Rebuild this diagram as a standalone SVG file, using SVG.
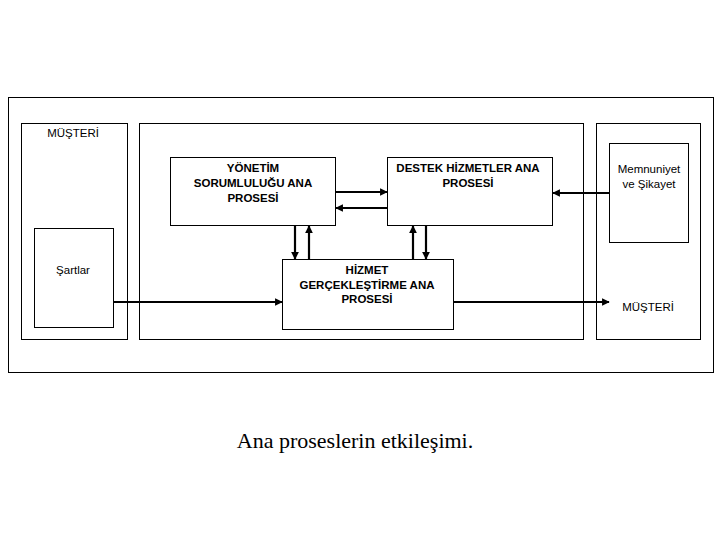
<svg xmlns="http://www.w3.org/2000/svg" width="720" height="540" viewBox="0 0 720 540">
<defs>
<style>
rect{fill:#fff;stroke:#000;stroke-width:1}
.c line{stroke:#000;stroke-width:2.2;marker-end:url(#a)}
.b{font-family:"Liberation Sans",Arial,sans-serif;font-size:11.5px;font-weight:bold;text-anchor:middle}
.n{font-family:"Liberation Sans",Arial,sans-serif;font-size:11.5px;text-anchor:middle}
</style>
<marker id="a" viewBox="0 0 10 10" refX="9" refY="5" markerWidth="3.5" markerHeight="3.5" orient="auto"><path d="M0,0L10,5L0,10z"/></marker>
</defs>
<rect width="720" height="540" style="stroke:none"/>
<rect id="outer" x="8.5" y="97.5" width="705" height="275"/>
<g id="musteri-left"><rect x="21.5" y="123.5" width="106" height="216"/><text class="n" x="73" y="137">MÜŞTERİ</text></g>
<g id="sartlar"><rect x="34.5" y="228.5" width="79" height="99"/><text class="n" x="73" y="274">Şartlar</text></g>
<rect id="middle" x="139.5" y="123.5" width="444" height="216"/>
<g id="musteri-right"><rect x="596.5" y="123.5" width="104" height="216"/><text class="n" x="648" y="311">MÜŞTERİ</text></g>
<g id="memnuniyet"><rect x="609.5" y="143.5" width="79" height="99"/><text class="n" x="649" y="173">Memnuniyet</text><text class="n" x="649" y="188">ve Şikayet</text></g>
<g id="yonetim"><rect x="170.5" y="157.5" width="165" height="68"/><text class="b" x="253" y="172">YÖNETİM</text><text class="b" x="253" y="187">SORUMLULUĞU ANA</text><text class="b" x="253" y="202">PROSESİ</text></g>
<g id="destek"><rect x="387.5" y="157.5" width="165" height="68"/><text class="b" x="468" y="172">DESTEK HİZMETLER ANA</text><text class="b" x="468" y="187">PROSESİ</text></g>
<g id="hizmet"><rect x="282.5" y="259.5" width="171" height="70"/><text class="b" x="367" y="274">HİZMET</text><text class="b" x="367" y="289">GERÇEKLEŞTİRME ANA</text><text class="b" x="367" y="303">PROSESİ</text></g>
<g class="c" id="connectors">
<line x1="336" y1="192" x2="387" y2="192"/>
<line x1="387" y1="208" x2="336" y2="208"/>
<line x1="295" y1="226" x2="295" y2="259"/>
<line x1="309" y1="259" x2="309" y2="226"/>
<line x1="413" y1="259" x2="413" y2="226"/>
<line x1="426" y1="226" x2="426" y2="259"/>
<line x1="609" y1="193" x2="553" y2="193"/>
<line x1="113" y1="302" x2="282" y2="302"/>
<line x1="454" y1="302" x2="609" y2="302"/>
</g>
<text x="355" y="448" style="font-family:'Liberation Serif','Times New Roman',serif;font-size:22px;text-anchor:middle">Ana proseslerin etkileşimi.</text>
</svg>
